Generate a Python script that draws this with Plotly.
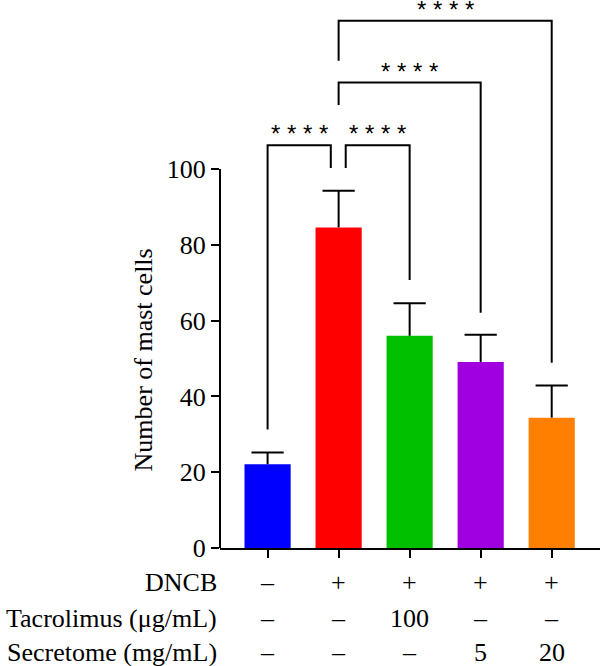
import plotly.graph_objects as go

# ---- data ----
groups = ["Control", "DNCB", "DNCB+Tacrolimus", "DNCB+Secretome 5", "DNCB+Secretome 20"]
means = [22.1, 84.6, 56.0, 49.1, 34.4]
errors = [3.1, 9.7, 8.6, 7.2, 8.5]
colors = ["#0000FF", "#FF0000", "#00C000", "#A000E0", "#FF8000"]
dncb = ["–", "+", "+", "+", "+"]
tacrolimus = ["–", "–", "100", "–", "–"]
secretome = ["–", "–", "–", "5", "20"]
row_labels = ["DNCB", "Tacrolimus (μg/mL)", "Secretome (mg/mL)"]
y_ticks = [0, 20, 40, 60, 80, 100]
y_title = "Number of mast cells"
sig_labels = ["* * * *", "* * * *", "* * * *", "* * * *"]
# brackets: left x, right x, top y, left-leg bottom y, right-leg bottom y
brackets = [
    (0.0, 0.89, 106.3, 31.3, 100.3),
    (1.10, 2.0, 106.3, 100.3, 70.7),
    (1.0, 3.0, 122.8, 116.9, 62.1),
    (1.0, 4.0, 139.1, 128.6, 48.9),
]

W, H = 600, 666
ML, MR, MT, MB = 220, 0, 0, 118
YMAX = 144.6
XR = [-0.67, 4.68]
serif = "Liberation Serif"
FS = 26

x = list(range(len(groups)))
tops = [m + e for m, e in zip(means, errors)]
fig = go.Figure()
fig.add_trace(go.Bar(
    x=x, y=means, marker=dict(color=colors, line=dict(width=0)),
    width=0.65,
    error_y=dict(type="data", array=errors, arrayminus=[0] * len(errors),
                 symmetric=False, color="black", thickness=2, width=0),
))
# error bar caps
fig.add_trace(go.Scatter(
    x=x, y=tops, mode="markers", cliponaxis=False,
    marker=dict(symbol="line-ew", size=23, color="black",
                line=dict(color="black", width=2)),
    hoverinfo="skip",
))

shapes = []
# y axis line only from 0 to 100
shapes.append(dict(type="line", xref="paper", yref="paper", x0=0, x1=0,
                   y0=0, y1=100 / YMAX, line=dict(color="black", width=2)))
annotations = []
for (xl, xr, yt, yl, yr), lab in zip(brackets, sig_labels):
    shapes.append(dict(type="path", xref="x", yref="y",
                       path=f"M {xl},{yl} L {xl},{yt} L {xr},{yt} L {xr},{yr}",
                       line=dict(color="black", width=2)))
    annotations.append(dict(x=(xl + xr) / 2, y=yt, xref="x", yref="y", text=lab,
                            showarrow=False, yanchor="bottom", xanchor="center",
                            yshift=-4,
                            font=dict(family="Liberation Sans", size=24, color="black")))

# table rows below
plot_h = H - MT - MB
row_px = [582, 618, 652]
rows = [dncb, tacrolimus, secretome]
for lab, vals, py in zip(row_labels, rows, row_px):
    yp = (plot_h - (py - MT)) / plot_h
    annotations.append(dict(x=0, y=yp, xref="paper", yref="paper", text=lab,
                            showarrow=False, xanchor="right", yanchor="middle",
                            xshift=-1, font=dict(family=serif, size=FS, color="black")))
    for xi, v in zip(x, vals):
        annotations.append(dict(x=xi, y=yp, xref="x", yref="paper", text=v,
                                showarrow=False, xanchor="center", yanchor="middle",
                                font=dict(family=serif, size=FS, color="black")))

# y axis title
annotations.append(dict(x=0, y=49.5, xref="paper", yref="y", text=y_title,
                        textangle=-90, showarrow=False, xanchor="center",
                        yanchor="middle", xshift=-77,
                        font=dict(family=serif, size=FS, color="black")))

fig.update_layout(
    width=W, height=H,
    margin=dict(l=ML, r=MR, t=MT, b=MB, pad=0),
    paper_bgcolor="white", plot_bgcolor="white",
    showlegend=False,
    xaxis=dict(range=XR, tickvals=x, ticktext=[""] * len(x), showline=True,
               linecolor="black", linewidth=2, ticks="outside", ticklen=8,
               tickwidth=2, tickcolor="black", showgrid=False, zeroline=False),
    yaxis=dict(range=[0, YMAX], tickvals=y_ticks, ticks="outside", ticklen=8,
               tickwidth=2, tickcolor="black", showline=False, showgrid=False,
               zeroline=False,
               tickfont=dict(family=serif, size=FS, color="black")),
    shapes=shapes, annotations=annotations,
)

fig.write_html("out.html")
